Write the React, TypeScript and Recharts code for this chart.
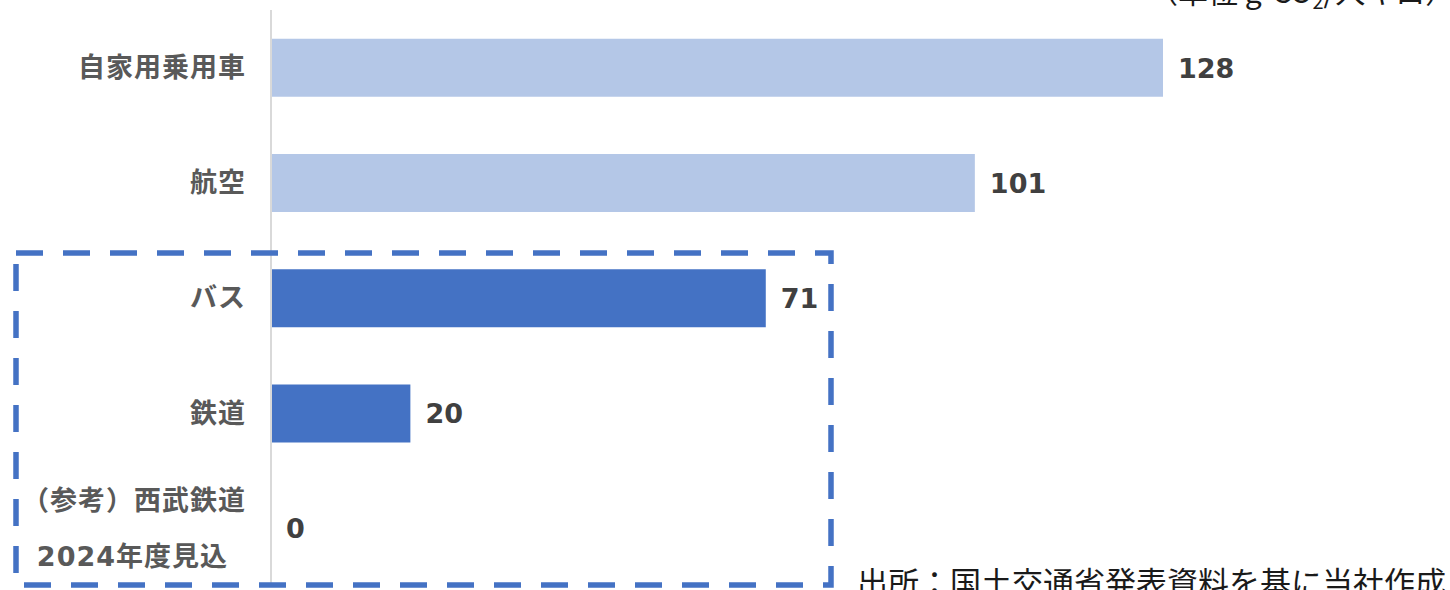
import { BarChart, Bar, XAxis, YAxis, Cell, LabelList } from 'recharts'

const categories = ['自家用乗用車', '航空', 'バス', '鉄道', '（参考）西武鉄道\n2024年度見込']
const values = [128, 101, 71, 20, 0]
const barColors = ['#B4C7E7', '#B4C7E7', '#4472C4', '#4472C4', '#4472C4']
const unitPrefix = '（単位 g-CO'
const unitSub = '2'
const unitSuffix = '/人キロ）'
const sourceNote = '出所：国土交通省発表資料を基に当社作成'

const data = categories.map((name, i) => ({ name, value: values[i] }))

const FONT = '"DejaVu Sans", "Noto Sans CJK JP", sans-serif'
const CJK = '"Noto Sans CJK JP", sans-serif'

function CategoryTick(props: any) {
  const { x, y, payload } = props
  const lines = String(payload.value).split('\n')
  const lh = 56
  const y0 = y - ((lines.length - 1) * lh) / 2
  return (
    <text
      x={x}
      y={y0}
      textAnchor="end"
      fill="#595959"
      fontSize={27}
      fontWeight="bold"
      fontFamily={FONT}
      letterSpacing={1}
    >
      {lines.map((l, i) => (
        <tspan key={i} x={x - (i > 0 ? 18 : 0)} y={y0 + i * lh} dy="0.35em">
          {l}
        </tspan>
      ))}
    </text>
  )
}

function ValueLabel(props: any) {
  const { x, y, width, height, value } = props
  return (
    <text
      x={Number(x) + Number(width) + 15}
      y={Number(y) + Number(height) / 2}
      dy="0.36em"
      fill="#404040"
      fontSize={27}
      fontWeight="bold"
      fontFamily={FONT}
    >
      {value}
    </text>
  )
}

export default function App() {
  return (
    <div style={{ position: 'absolute', left: 0, top: 0, width: 1450, height: 590, background: '#fff', overflow: 'hidden' }}>
      <BarChart
        width={1450}
        height={590}
        data={data}
        layout="vertical"
        margin={{ top: 10, right: 64, bottom: 4, left: 0 }}
        barCategoryGap="25%"
      >
        <XAxis type="number" domain={[0, 160]} hide />
        <YAxis
          type="category"
          dataKey="name"
          width={271}
          axisLine={{ stroke: '#D9D9D9', strokeWidth: 2 }}
          tickLine={false}
          tickSize={0}
          tickMargin={25}
          tick={<CategoryTick />}
          interval={0}
        />
        <Bar dataKey="value" isAnimationActive={false} minPointSize={0.01}>
          {data.map((d, i) => (
            <Cell key={d.name} fill={barColors[i]} />
          ))}
          <LabelList dataKey="value" content={<ValueLabel />} />
        </Bar>
      </BarChart>
      <svg width={1450} height={590} style={{ position: 'absolute', left: 0, top: 0, pointerEvents: 'none' }}>
        <rect
          x={16}
          y={253}
          width={815}
          height={332}
          fill="none"
          stroke="#4472C4"
          strokeWidth={5.5}
          strokeDasharray="27 20"
        />
        <text x={1148} y={3} fontSize={30} fontFamily={CJK} fill="#1a1a1a">
          {unitPrefix}
          <tspan dy={6} fontSize={20}>{unitSub}</tspan>
          <tspan dy={-6}>{unitSuffix}</tspan>
        </text>
        <text x={857} y={594} fontSize={31} fontFamily={CJK} fill="#1a1a1a">
          {sourceNote}
        </text>
      </svg>
    </div>
  )
}
